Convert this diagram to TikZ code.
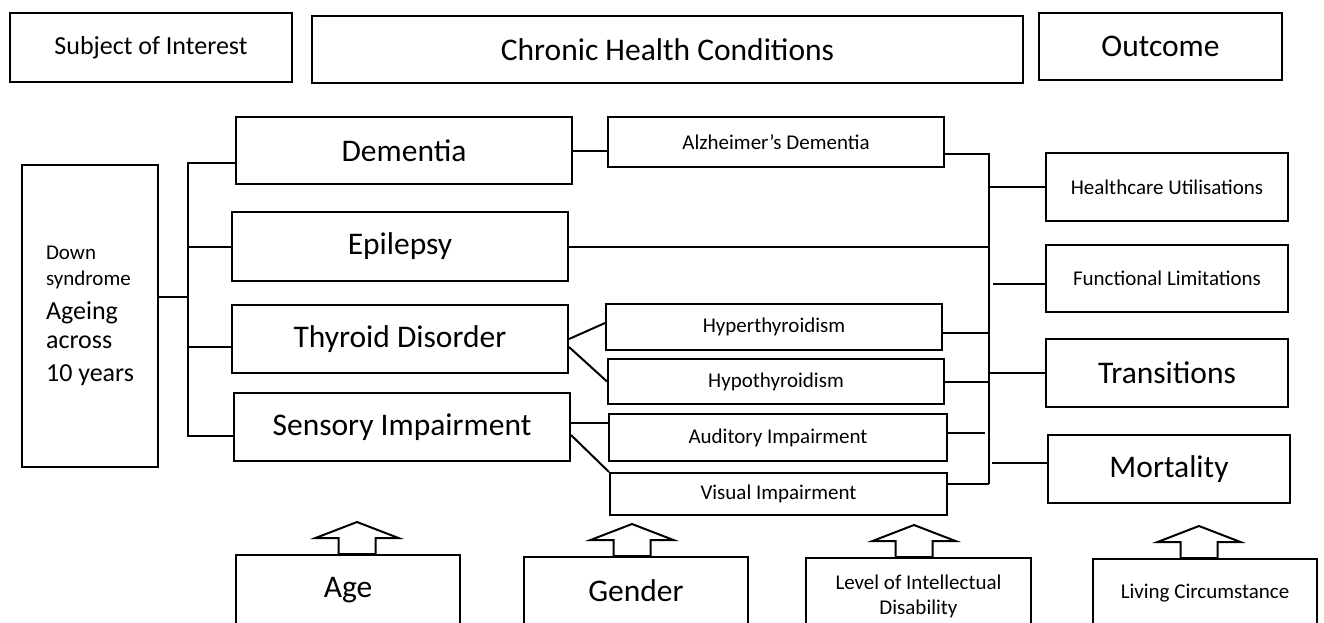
\documentclass[tikz,border=0pt]{standalone}
\usepackage{fontspec}
\setmainfont{Carlito}
\newcommand{\bigtxt}{\fontsize{31.5}{38}\selectfont}
\newcommand{\midtxt}{\fontsize{26}{32}\selectfont}
\newcommand{\smalltxt}{\fontsize{21}{25}\selectfont}

\tikzset{
	head/.style={draw, line width=1.2pt, inner sep=0pt},
	box/.style={draw, line width=2pt, inner sep=0pt, minimum width=336, font=\bigtxt},
	sub/.style={draw, line width=2pt, inner sep=0pt, minimum width=336, font=\smalltxt},
	outbox/.style={draw, line width=2pt, inner sep=0pt, minimum width=242, minimum height=68},
	factor/.style={draw, line width=2pt, inner sep=0pt, minimum width=224}
}

\begin{document}
\begin{tikzpicture}[x=1pt, y=-1pt, line width=2pt]
	\useasboundingbox (0,0) rectangle (1324,622);
	\clip (0,0) rectangle (1324,622);
	% headings
	\node[head, minimum width=282, minimum height=69, font=\midtxt] (soi) at (151,47.5) {Subject of Interest};
	\node[head, minimum width=711, minimum height=67, font=\bigtxt] (chc) at (667.5,49.5) {Chronic Health Conditions};
	\node[head, minimum width=243, minimum height=67, font=\bigtxt] (outc) at (1160.5,46.5) {Outcome};
	% subject
	\node[draw, line width=2pt, inner sep=0pt, minimum width=136, minimum height=302, align=left, font=\fontsize{21}{30}\selectfont] (ds) at (90,316)
		{\smalltxt Down\\[-4pt] \smalltxt syndrome\\[4pt] \midtxt Ageing\\[-1pt] \midtxt across\\[3pt] \midtxt 10 years};
	% conditions
	\node[box, minimum height=67] (dem) at (404,150.5) {Dementia};
	\node[box, minimum height=69] (epi) at (400,246.5) {Epilepsy};
	\node[box, minimum height=68] (thy) at (400,339) {Thyroid Disorder};
	\node[box, minimum height=68] (sen) at (402,427) {Sensory Impairment};
	\node[sub, minimum height=50] (alz) at (776,142) {Alzheimer’s Dementia};
	\node[sub, minimum height=46] (hyper) at (774,327) {Hyperthyroidism};
	\node[sub, minimum height=45] (hypo) at (776,381.5) {Hypothyroidism};
	\node[sub, minimum height=47, minimum width=338] (aud) at (778,437.5) {Auditory Impairment};
	\node[sub, minimum height=42, minimum width=337] (vis) at (778.5,494) {Visual Impairment};
	% outcomes
	\node[outbox, font=\smalltxt] (health) at (1167,187) {Healthcare Utilisations};
	\node[outbox, font=\smalltxt, minimum height=67] (func) at (1167,278.5) {Functional Limitations};
	\node[outbox, font=\bigtxt] (trans) at (1167,373) {Transitions};
	\node[outbox, font=\bigtxt] (mort) at (1169,469) {Mortality};
	% factors
	\node[factor, minimum height=70, font=\bigtxt] (age) at (348,590) {Age};
	\node[factor, minimum height=68, font=\bigtxt] (gen) at (636,591) {Gender};
	\node[factor, minimum height=76, minimum width=225, font=\smalltxt, align=center] (lid) at (918.5,596) {Level of Intellectual\\Disability};
	\node[factor, minimum height=68, font=\smalltxt] (liv) at (1205,593) {Living Circumstance};

	% brackets
	\coordinate (ltop) at (188,162);
	\coordinate (lbot) at (188,437);
	\coordinate (rtop) at (989,153);
	\coordinate (rbot) at (989,484);
	\draw (ltop) -- (lbot);
	\draw (rtop) -- (rbot);

	\draw ([yshift=19pt]ds.east) -- ([yshift=19pt]ds.east -| ltop);
	\draw ([yshift=-12.5pt]dem.west) -- ([yshift=-12.5pt]dem.west -| ltop);
	\draw (epi.west) -- (epi.west -| ltop);
	\draw ([yshift=-8pt]thy.west) -- ([yshift=-8pt]thy.west -| ltop);
	\draw ([yshift=-9pt]sen.west) -- ([yshift=-9pt]sen.west -| lbot);

	\draw (dem.east) -- (dem.east -| alz.west);
	\draw (epi.east) -- (epi.east -| rtop);
	\draw (thy.east) -- ([yshift=4pt]hyper.west);
	\draw ([yshift=-8pt]thy.east) -- (hypo.west);
	\draw ([yshift=4pt]sen.east) -- ([yshift=4pt]sen.east -| aud.west);
	\draw ([yshift=-8pt]sen.east) -- (vis.north west);

	\draw ([yshift=-12pt]alz.east) -- ([yshift=-12pt]alz.east -| rtop);
	\draw ([yshift=-6pt]hyper.east) -- ([yshift=-6pt]hyper.east -| rtop);
	\draw (hypo.east) -- (hypo.east -| rtop);
	\draw[shorten >=4pt] ([yshift=4.5pt]aud.east) -- ([yshift=4.5pt]aud.east -| rtop);
	\draw ([yshift=10pt]vis.east) -- ([yshift=10pt]vis.east -| rbot);

	\draw (health.west -| rtop) -- (health.west);
	\draw[shorten <=4pt] ([yshift=-5.5pt]func.west -| rtop) -- ([yshift=-5.5pt]func.west);
	\draw (trans.west -| rtop) -- (trans.west);
	\draw[shorten <=3pt] ([yshift=6pt]mort.west -| rtop) -- ([yshift=6pt]mort.west);

	% block arrows
	\foreach \b/\dx in {age/9, gen/-4, lid/-4.5, liv/-6}
		\draw ([xshift=\dx pt]\b.north) ++(-18.5,0) -- ++(0,-16) -- ++(-23,0) -- ++(41.5,-16) -- ++(41.5,16) -- ++(-23,0) -- ++(0,16) -- cycle;
\end{tikzpicture}
\end{document}
